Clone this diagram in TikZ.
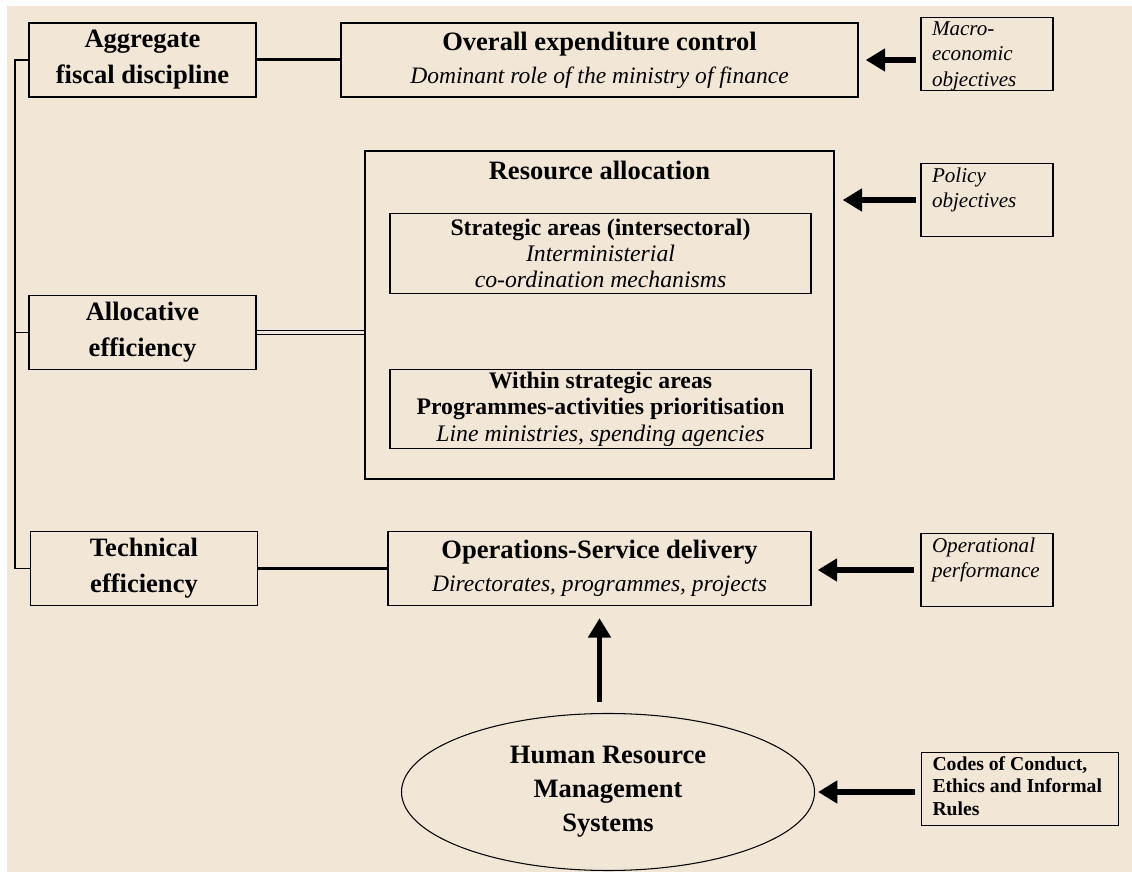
\documentclass[tikz,border=0pt]{standalone}
\usepackage{fontspec}
\setmainfont{Liberation Serif}
\usetikzlibrary{positioning,arrows.meta,shapes.geometric}
\definecolor{paper}{RGB}{242,230,214}

\begin{document}
\begin{tikzpicture}[
    box/.style={draw,line width=0.8pt,align=center,inner sep=0pt},
    aim/.style={draw,line width=0.8pt,inner xsep=0.22cm,inner ysep=0.08cm,font=\fontsize{12}{14.5}\selectfont\itshape},
    goal/.style={box,minimum width=4.54cm,minimum height=1.48cm,font=\fontsize{15.1}{20.5}\selectfont\bfseries},
    task/.style={box,minimum height=1.48cm,font=\fontsize{15.1}{18.8}\selectfont},
    area/.style={box,minimum width=8.42cm,minimum height=1.59cm,font=\fontsize{13.5}{15}\selectfont},
    fat/.style={line width=3pt,-{Triangle[length=11pt,width=12.5pt]}},
    link/.style={line width=1.7pt}
  ]
    \fill[paper] (0.14,0) rectangle (22.64,17.32);
    \useasboundingbox (0,0) rectangle (22.64,17.44);

    \node[goal] (afd) at (2.85,16.24) {Aggregate\\fiscal discipline};
    \node[task,minimum width=10.34cm] (overall) at (11.99,16.24) {{\bfseries Overall expenditure control}\\{\fontsize{13.4}{18.8}\selectfont\itshape Dominant role of the ministry of finance}};
    \node[aim] (macro) at (19.74,16.36) {\parbox[t][1.3cm][t]{2.2cm}{Macro-\\economic\\objectives}};

    \node[box,minimum width=9.38cm,minimum height=6.56cm] (res) at (11.99,11.14) {};
    \node[font=\fontsize{15.1}{18}\selectfont\bfseries,inner sep=0pt,below=0.2cm of res.north] (restitle) {Resource allocation};
    \node[area] (strat) at (12.01,12.37) {{\bfseries Strategic areas (intersectoral)}\\{\itshape Interministerial}\\{\itshape co-ordination mechanisms}};
    \node[area] (within) at (12.01,9.26) {{\bfseries Within strategic areas}\\{\bfseries Programmes-activities prioritisation}\\{\itshape Line ministries, spending agencies}};
    \node[aim] (policy) at (19.74,13.44) {\parbox[t][1.3cm][t]{2.2cm}{Policy\\objectives}};

    \node[goal] (alloc) at (2.85,10.79) {Allocative\\efficiency};
    \node[goal] (tech) at (2.88,6.07) {Technical\\efficiency};
    \node[task,minimum width=8.46cm] (ops) at (11.99,6.07) {{\bfseries Operations-Service delivery}\\{\fontsize{13.4}{18.8}\selectfont\itshape Directorates, programmes, projects}};
    \node[aim] (oper) at (19.74,6.04) {\parbox[t][1.3cm][t]{2.2cm}{Operational\\performance}};

    \node[draw,ellipse,line width=0.6pt,minimum width=8.26cm,minimum height=3.14cm,inner sep=0pt,align=center,font=\fontsize{15.1}{19.3}\selectfont\bfseries] (hrm) at (12.16,1.6) {Human Resource\\Management\\Systems};
    \node[aim,font=\fontsize{11.2}{12.8}\selectfont\bfseries] (codes) at (20.4,1.66) {\parbox[t][1.3cm][t]{3.5cm}{Codes of Conduct,\\Ethics and Informal\\Rules}};

    % left bracket joining the three efficiency levels
    \coordinate (bus) at (0.3,10);
    \draw[line width=0.7pt] (afd.west) -- (afd.west -| bus) -- (tech.west -| bus) -- (tech.west);
    \draw[line width=0.7pt] (alloc.west) -- (alloc.west -| bus);

    \draw[link] (afd) -- (overall);
    \draw[link] (tech) -- (ops);
    \draw[double=paper,double distance=1.3pt,line width=0.6pt] (alloc.east) -- (alloc.east -| res.west);

    \draw[fat,shorten <=0.08cm,shorten >=0.14cm] (macro.west |- overall.east) -- (overall.east);
    \draw[fat,shorten <=0.08cm,shorten >=0.16cm] (policy.west) -- (policy.west -| res.east);
    \draw[fat,shorten <=0.12cm,shorten >=0.12cm] (oper.west) -- (ops.east |- oper.west);
    \draw[fat,shorten <=0.12cm,shorten >=0.06cm] (codes.west |- hrm.east) -- (hrm.east);
    \draw[fat,shorten <=0.22cm,shorten >=0.24cm] (ops.south |- hrm.north) -- (ops.south);
  \end{tikzpicture}
\end{document}
